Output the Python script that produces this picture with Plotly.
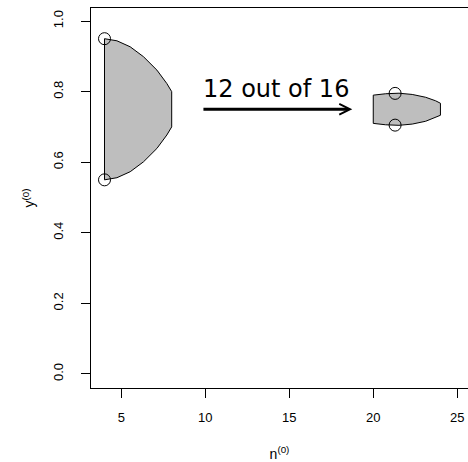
import plotly.graph_objects as go

# Prior set (n0, upper y0); lower bound is mirror about 0.75
prior_n = [4.0, 4.74, 5.53, 6.32, 7.12, 7.71, 8.0]
prior_upper = [0.95, 0.944, 0.927, 0.899, 0.861, 0.823, 0.80]
prior_lower = [0.55, 0.556, 0.573, 0.601, 0.639, 0.677, 0.70]

# Posterior set (n1, upper / lower y1)
post_n = [20.0, 20.74, 21.53, 22.32, 23.12, 23.71, 24.0]
post_upper = [0.790, 0.794, 0.7955, 0.792, 0.784, 0.774, 0.767]
post_lower = [0.710, 0.706, 0.7045, 0.708, 0.716, 0.726, 0.733]

# highlighted points
circ_prior_n = [4.0, 4.0]
circ_prior_y = [0.95, 0.55]
circ_post_n = [21.3, 21.3]
circ_post_y = [0.795, 0.705]

# arrow & label
arrow_from = (9.8, 0.75)
arrow_to = (18.75, 0.75)
label_text = "12 out of 16"
label_pos = (14.2, 0.761)

x_ticks = [5, 10, 15, 20, 25]
y_ticks = [0.0, 0.2, 0.4, 0.6, 0.8, 1.0]

fill = "#BEBEBE"

fig = go.Figure()

poly_x = prior_n + prior_n[::-1] + [prior_n[0]]
poly_y = prior_lower + prior_upper[::-1] + [prior_lower[0]]
fig.add_trace(go.Scatter(x=poly_x, y=poly_y, mode="lines", fill="toself",
                         fillcolor=fill, line=dict(color="black", width=1),
                         hoverinfo="skip"))

qx = post_n + post_n[::-1] + [post_n[0]]
qy = post_lower + post_upper[::-1] + [post_lower[0]]
fig.add_trace(go.Scatter(x=qx, y=qy, mode="lines", fill="toself",
                         fillcolor=fill, line=dict(color="black", width=1),
                         hoverinfo="skip"))

fig.add_trace(go.Scatter(x=circ_prior_n + circ_post_n, y=circ_prior_y + circ_post_y,
                         mode="markers",
                         marker=dict(symbol="circle-open", size=12,
                                     color="black", line=dict(width=1))))

fig.add_annotation(x=arrow_to[0], y=arrow_to[1], ax=arrow_from[0], ay=arrow_from[1],
                   xref="x", yref="y", axref="x", ayref="y", text="",
                   showarrow=True, arrowhead=5, arrowsize=0.7, arrowwidth=3,
                   arrowcolor="black")
fig.add_annotation(x=label_pos[0], y=label_pos[1], xref="x", yref="y",
                   text=label_text, showarrow=False, yanchor="bottom",
                   font=dict(family="DejaVu Sans", size=24, color="black"))

axis_font = dict(family="Liberation Sans, Arial", size=13, color="black")
title_font = dict(family="Liberation Sans, Arial", size=14, color="black")
fig.update_layout(
    width=468, height=462,
    margin=dict(l=91, r=0, t=8, b=74),
    paper_bgcolor="white", plot_bgcolor="white",
    showlegend=False,
    xaxis=dict(range=[3.196, 25.64], tickvals=x_ticks, ticktext=[str(v) for v in x_ticks],
               ticks="outside", ticklen=9, tickcolor="black", tickwidth=1,
               showline=True, linecolor="black", linewidth=1, mirror=True,
               showgrid=False, zeroline=False, tickfont=axis_font,
               automargin=False, ticklabelstandoff=8,
               title=dict(text="n<sup>(0)</sup>", font=title_font, standoff=28)),
    yaxis=dict(range=[-0.04, 1.037], tickvals=y_ticks, ticktext=[f"{v:.1f}" for v in y_ticks],
               ticks="outside", ticklen=9, tickcolor="black", tickwidth=1,
               showline=True, linecolor="black", linewidth=1,
               showgrid=False, zeroline=False, tickfont=axis_font, tickangle=-90,
               automargin=False, ticklabelstandoff=13,
               title=dict(text="y<sup>(0)</sup>", font=title_font, standoff=12)),
)

fig.write_html("out.html", config={"displayModeBar": False},
               post_script="document.body.style.margin='0';document.body.style.overflow='hidden';")
